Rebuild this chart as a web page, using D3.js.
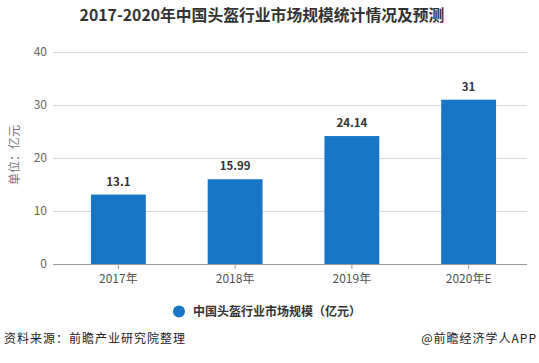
<!DOCTYPE html>
<html><head><meta charset="utf-8">
<script src="https://cdn.jsdelivr.net/npm/d3@7"></script>
<style>body{margin:0;background:#fff;}svg{display:block;font-family:"Microsoft YaHei","Noto Sans CJK SC",sans-serif;}</style>
</head><body>
<script>
const categories = ["2017年","2018年","2019年","2020年E"];
const values = [13.1, 15.99, 24.14, 31];
const valueLabels = ["13.1","15.99","24.14","31"];
const yTicks = [0,10,20,30,40];
const title = "2017-2020年中国头盔行业市场规模统计情况及预测";
const seriesName = "中国头盔行业市场规模（亿元）";

const W=539,H=363;
const svg=d3.select("body").append("svg").attr("width",W).attr("height",H);
const x=d3.scaleBand().domain(categories).range([60,527]).paddingInner(0.53).paddingOuter(0.265);
const y=d3.scaleLinear().domain([0,40]).range([264,52]);

svg.append("text").attr("x",262).attr("y",21).attr("text-anchor","middle")
  .attr("font-size",15.8).attr("font-weight","bold").attr("fill","#333").text(title);

// grid
svg.append("g").selectAll("line").data(yTicks.filter(d=>d>0)).join("line")
  .attr("x1",53).attr("x2",527).attr("y1",d=>y(d)).attr("y2",d=>y(d))
  .attr("stroke","#d9d9d9").attr("stroke-width",1).attr("shape-rendering","crispEdges");
svg.append("g").selectAll("text").data(yTicks).join("text")
  .attr("x",47).attr("y",d=>y(d)+4).attr("text-anchor","end").attr("font-size",12).attr("fill","#666").text(d=>d);

// bars
svg.append("g").selectAll("rect").data(values).join("rect")
  .attr("x",(d,i)=>x(categories[i])).attr("width",x.bandwidth())
  .attr("y",d=>y(d)).attr("height",d=>y(0)-y(d)).attr("fill","#1776c6");
svg.append("g").selectAll("text").data(values).join("text")
  .attr("x",(d,i)=>x(categories[i])+x.bandwidth()/2).attr("y",d=>y(d)-9)
  .attr("text-anchor","middle").attr("font-size",11.5).attr("font-weight","bold").attr("fill","#333")
  .text((d,i)=>valueLabels[i]);

// x axis
svg.append("line").attr("x1",53).attr("x2",527).attr("y1",264.5).attr("y2",264.5).attr("stroke","#999");
svg.append("g").selectAll("line").data(categories).join("line")
  .attr("x1",d=>x(d)+x.bandwidth()/2).attr("x2",d=>x(d)+x.bandwidth()/2)
  .attr("y1",264).attr("y2",269).attr("stroke","#999");
svg.append("g").selectAll("text").data(categories).join("text")
  .attr("x",d=>x(d)+x.bandwidth()/2).attr("y",283).attr("text-anchor","middle")
  .attr("font-size",12).attr("fill","#555").text(d=>d);

// y label
svg.append("text").attr("transform","translate(19,155) rotate(-90)").attr("text-anchor","middle")
  .attr("font-size",12).attr("fill","#777").text("单位：亿元");

// legend
svg.append("circle").attr("cx",179).attr("cy",311.5).attr("r",6).attr("fill","#1776c6");
svg.append("text").attr("x",193).attr("y",316).attr("font-size",12).attr("font-weight","bold").attr("fill","#333").text(seriesName);

// footer
svg.append("text").attr("x",4).attr("y",343).attr("font-size",12).attr("letter-spacing",1).attr("fill","#222").text("资料来源：前瞻产业研究院整理");
svg.append("text").attr("x",537).attr("y",343).attr("text-anchor","end").attr("font-size",12).attr("letter-spacing",1).attr("fill","#222").text("@前瞻经济学人APP");
</script>
</body></html>
